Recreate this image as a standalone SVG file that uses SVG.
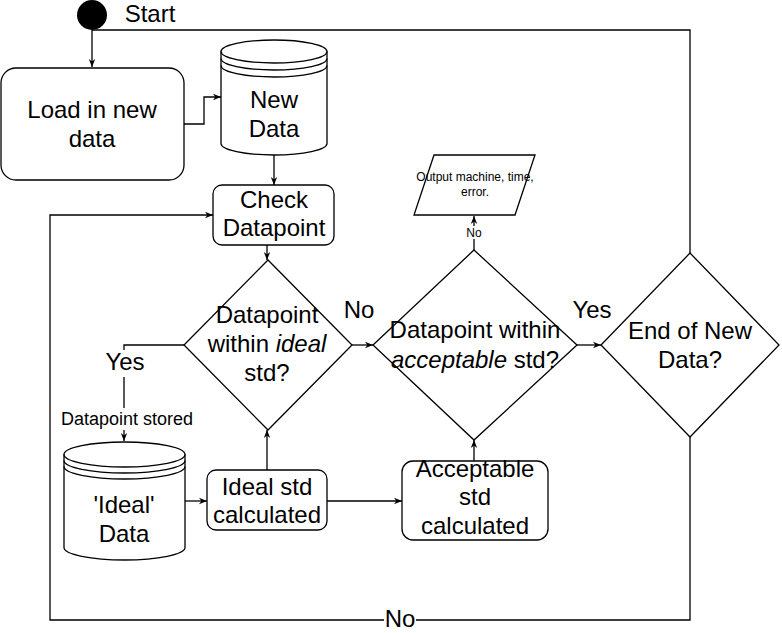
<svg xmlns="http://www.w3.org/2000/svg" width="782" height="633" viewBox="0 0 782 633">
<style>
.s{fill:#fff;stroke:#000;stroke-width:1.3}
.c{fill:none;stroke:#000;stroke-width:1.3}
.t{font-family:"Liberation Sans",Arial,sans-serif;font-size:24px;fill:#000;text-anchor:middle}
.sm{font-size:18px}
.xs{font-size:12px}
.lb{fill:#fff;stroke:none}
</style>
<defs>
<marker id="arr" viewBox="0 0 10 10" refX="10" refY="5" markerWidth="8" markerHeight="8" orient="auto" markerUnits="userSpaceOnUse">
<path d="M0,1 L10,5 L0,9 L3,5 Z" fill="#000"/>
</marker>
</defs>
<rect width="782" height="633" fill="#fff"/>
<g id="connectors">
<path class="c" d="M92,30 L92,67" marker-end="url(#arr)"/>
<path class="c" d="M92,30 L690,30 L690,253"/>
<path class="c" d="M184,124 L204,124 L204,97 L221,97" marker-end="url(#arr)"/>
<path class="c" d="M274,155 L274,185" marker-end="url(#arr)"/>
<path class="c" d="M267,245 L267,260" marker-end="url(#arr)"/>
<path class="c" d="M184,345 L124,345 L124,441" marker-end="url(#arr)"/>
<path class="c" d="M185,501 L207,501" marker-end="url(#arr)"/>
<path class="c" d="M267,470 L267,430" marker-end="url(#arr)"/>
<path class="c" d="M327,501 L402,501" marker-end="url(#arr)"/>
<path class="c" d="M474,461 L474,440" marker-end="url(#arr)"/>
<path class="c" d="M352,345 L373,345" marker-end="url(#arr)"/>
<path class="c" d="M474,250 L474,216" marker-end="url(#arr)"/>
<path class="c" d="M577,345 L601,345" marker-end="url(#arr)"/>
<path class="c" d="M690,437 L690,620 L50,620 L50,215 L213,215" marker-end="url(#arr)"/>
<rect class="lb" x="100" y="350" width="50" height="27"/>
<text class="t" x="125" y="370">Yes</text>
<rect class="lb" x="60" y="408" width="134" height="22"/>
<text class="t sm" x="127" y="425">Datapoint stored</text>
<text class="t" x="359" y="318">No</text>
<rect class="lb" x="464" y="226" width="20" height="13"/>
<text class="t xs" x="474" y="237">No</text>
<text class="t" x="592" y="318">Yes</text>
<rect class="lb" x="384" y="607" width="32" height="24"/>
<text class="t" x="400" y="627">No</text>
</g>
<g id="start">
<circle cx="92" cy="15" r="15" fill="#000"/>
<text class="t" x="150" y="22">Start</text>
</g>
<g id="load">
<rect class="s" x="1" y="68" width="183" height="112" rx="15"/>
<text class="t" x="92" y="118">Load in new</text>
<text class="t" x="92" y="147">data</text>
</g>
<g id="newdata">
<path class="s" d="M221,51.5 A53,11.5 0 0 1 327,51.5 L327,143.5 A53,11.5 0 0 1 221,143.5 Z"/>
<path class="c" d="M221,51.5 A53,11.5 0 0 0 327,51.5 M221,58.5 A53,11.5 0 0 0 327,58.5 M221,65.5 A53,11.5 0 0 0 327,65.5"/>
<text class="t" x="274" y="108">New</text>
<text class="t" x="274" y="137">Data</text>
</g>
<g id="check">
<rect class="s" x="213" y="185" width="121" height="60" rx="9"/>
<text class="t" x="274" y="208">Check</text>
<text class="t" x="274" y="236">Datapoint</text>
</g>
<g id="ideal-decision">
<path class="s" d="M268,260 L352,345 L268,430 L184,345 Z"/>
<text class="t" x="267" y="323">Datapoint</text>
<text class="t" x="267" y="352">within <tspan font-style="italic">ideal</tspan></text>
<text class="t" x="267" y="381">std?</text>
</g>
<g id="ideal-data">
<path class="s" d="M64,454.5 A60.5,12.5 0 0 1 185,454.5 L185,547.5 A60.5,12.5 0 0 1 64,547.5 Z"/>
<path class="c" d="M64,454.5 A60.5,12.5 0 0 0 185,454.5 M64,460.5 A60.5,12.5 0 0 0 185,460.5 M64,466.5 A60.5,12.5 0 0 0 185,466.5"/>
<text class="t" x="124" y="513">'Ideal'</text>
<text class="t" x="124" y="542">Data</text>
</g>
<g id="ideal-std">
<rect class="s" x="207" y="470" width="120" height="60" rx="9"/>
<text class="t" x="267" y="495">Ideal std</text>
<text class="t" x="267" y="523">calculated</text>
</g>
<g id="acceptable-std">
<rect class="s" x="402" y="461" width="146" height="79" rx="11"/>
<text class="t" x="475" y="477">Acceptable</text>
<text class="t" x="475" y="505">std</text>
<text class="t" x="475" y="534">calculated</text>
</g>
<g id="acceptable-decision">
<path class="s" d="M474,250 L577,345 L474,440 L373,345 Z"/>
<text class="t" x="475" y="338">Datapoint within</text>
<text class="t" x="475" y="368"><tspan font-style="italic">acceptable</tspan> std?</text>
</g>
<g id="output">
<path class="s" d="M434,155 L535,155 L515,215 L414,215 Z"/>
<text class="t xs" x="475" y="181">Output machine, time,</text>
<text class="t xs" x="475" y="196">error.</text>
</g>
<g id="end-decision">
<path class="s" d="M690,253 L779,345 L690,437 L601,345 Z"/>
<text class="t" x="690" y="339">End of New</text>
<text class="t" x="690" y="368">Data?</text>
</g>
</svg>
